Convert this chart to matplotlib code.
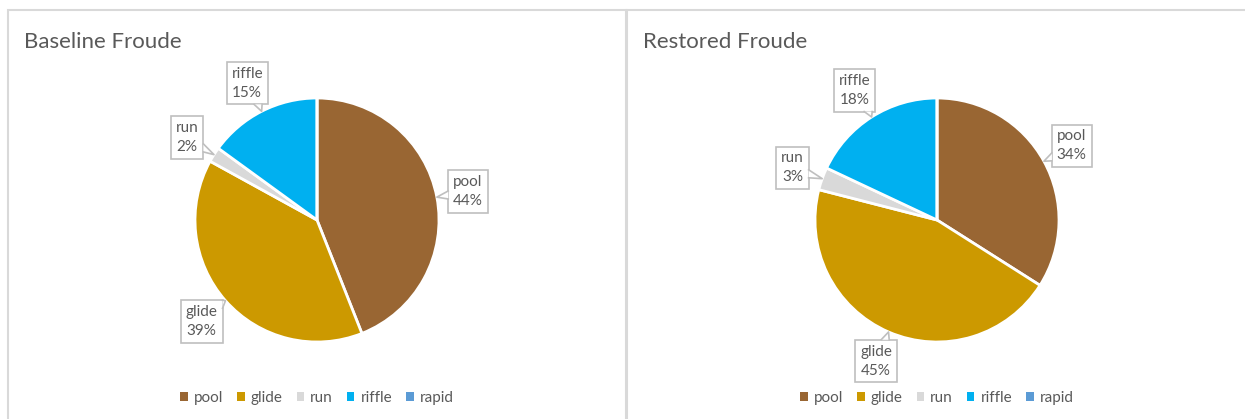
import numpy as np
import matplotlib
matplotlib.use("Agg")
import matplotlib.pyplot as plt
from matplotlib.patches import Rectangle, Patch, Polygon
from matplotlib.lines import Line2D
from matplotlib.legend import Legend

plt.rcParams['font.family'] = ['Lato', 'DejaVu Sans']

categories = ["pool", "glide", "run", "riffle", "rapid"]
baseline_pct = [44, 39, 2, 15, 0]
restored_pct = [34, 45, 3, 18, 0]
titles = ["Baseline Froude", "Restored Froude"]
colors = ["#996633", "#CC9900", "#D9D9D9", "#00B0F0", "#5B9BD5"]

W, H = 1245, 419
fig = plt.figure(figsize=(W / 100, H / 100), dpi=100)
ax = fig.add_axes([0, 0, 1, 1])

TXT = "#595959"
BORDER = "#D9D9D9"
R = 122

panels = [(317, titles[0], baseline_pct, 24), (937, titles[1], restored_pct, 643)]
label_specs = []
for cx, title, vals, tx in panels:
    cy = H - 220
    ax.pie(vals, colors=colors, startangle=90, counterclock=False,
           center=(cx, cy), radius=R, normalize=True,
           wedgeprops=dict(edgecolor="white", linewidth=2))
    label_specs.append((cx, cy, title, vals, tx))

# pie() rewrites limits and aspect; map data units back to figure pixels
ax.set_xlim(0, W)
ax.set_ylim(0, H)
ax.set_aspect("auto")
ax.axis("off")

# chart frames
ax.add_patch(Rectangle((8, -5), 618, H - 10 + 5, fill=False, ec=BORDER, lw=1.5))
ax.add_patch(Rectangle((627, -5), W, H - 10 + 5, fill=False, ec=BORDER, lw=1.5))

label_items = []
for cx, cy, title, vals, tx in label_specs:
    ax.text(tx, H - 42, title, fontsize=16, color=TXT, va="center", ha="left")
    total = float(sum(vals))
    start = 90.0
    for name, v in zip(categories, vals):
        if v <= 0:
            continue
        span = 360.0 * v / total
        mid = np.deg2rad(start - span / 2)
        start -= span
        lx = cx + 1.26 * R * np.cos(mid)
        ly = cy + 1.26 * R * np.sin(mid)
        tip = (cx + 1.0 * R * np.cos(mid), cy + 1.0 * R * np.sin(mid))
        t = ax.text(lx, ly, f"{name}\n{v}%", fontsize=11, color=TXT,
                    ha="center", va="center", linespacing=1.45, zorder=5,
                    bbox=dict(boxstyle="square,pad=0.32", fc="white",
                              ec="#BFBFBF", lw=1.2))
        label_items.append((t, tip))

    handles = [Patch(facecolor=c, edgecolor="none") for c in colors]
    leg = Legend(ax, handles, categories, loc="center", ncol=5, frameon=False,
                 bbox_to_anchor=(cx, 21), bbox_transform=ax.transData,
                 handlelength=0.5, handleheight=0.5, handletextpad=0.4,
                 columnspacing=0.9, fontsize=11)
    for txt in leg.get_texts():
        txt.set_color(TXT)
    ax.add_artist(leg)

# callout pointers from each label box to its wedge
fig.canvas.draw()
renderer = fig.canvas.get_renderer()
inv = ax.transData.inverted()
for t, tip in label_items:
    bb = t.get_bbox_patch().get_window_extent(renderer)
    (x0, y0), (x1, y1) = inv.transform([(bb.x0, bb.y0), (bb.x1, bb.y1)])
    bx, by = (x0 + x1) / 2, (y0 + y1) / 2
    dx, dy = tip[0] - bx, tip[1] - by
    hw, hh = (x1 - x0) / 2, (y1 - y0) / 2
    s = min(hw / abs(dx) if dx else 1e9, hh / abs(dy) if dy else 1e9)
    ex, ey = bx + dx * s, by + dy * s
    g = 4
    if abs(abs(ex - bx) - hw) < 1e-6:
        ey = np.clip(ey, y0 + g, y1 - g)
        p1, p2 = (ex, ey - g), (ex, ey + g)
    else:
        ex = np.clip(ex, x0 + g, x1 - g)
        p1, p2 = (ex - g, ey), (ex + g, ey)
    ax.add_patch(Polygon([p1, tip, p2], closed=True, fc="white", ec="none",
                         zorder=5.5))
    ax.add_line(Line2D([p1[0], tip[0], p2[0]], [p1[1], tip[1], p2[1]],
                       color="#BFBFBF", lw=1.2, zorder=5.6))

fig.savefig("out.png", dpi=100)
